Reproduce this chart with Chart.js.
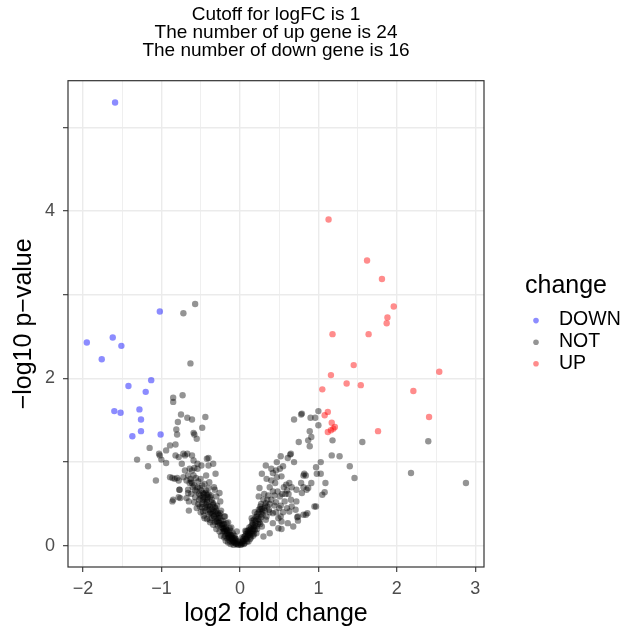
<!DOCTYPE html>
<html>
<head>
<meta charset="utf-8">
<script src="https://cdn.jsdelivr.net/npm/chart.js@4.4.1/dist/chart.umd.min.js"></script>
<style>
html, body { margin: 0; padding: 0; background: #fff; }
canvas { display: block; }
</style>
</head>
<body>
<canvas id="volcano" width="638" height="635"></canvas>
<script>
const titleLines = ['Cutoff for logFC is 1', 'The number of up gene is 24', 'The number of down gene is 16'];
const legendOrder = ['DOWN', 'NOT', 'UP'];
const xTicks = [-2, -1.5, -1, -0.5, 0, 0.5, 1, 1.5, 2, 2.5, 3];
const yTicks = [0, 1, 2, 3, 4, 5];

// [log2FC, -log10 p]
const downPts = [
    [-1.59, 5.30], [-1.02, 2.80], [-1.95, 2.43], [-1.62, 2.49], [-1.51, 2.39], [-1.76, 2.23],
    [-1.42, 1.91], [-1.13, 1.98], [-1.20, 1.84], [-1.60, 1.61], [-1.52, 1.59], [-1.28, 1.63],
    [-1.26, 1.51], [-1.26, 1.37], [-1.37, 1.31], [-1.01, 1.33]
];

const upPts = [
    [1.13, 3.90], [1.62, 3.41], [1.81, 3.19], [1.96, 2.86], [1.88, 2.73], [1.87, 2.66],
    [1.18, 2.53], [1.64, 2.53], [1.45, 2.16], [1.16, 2.04], [2.54, 2.08], [1.05, 1.87],
    [1.36, 1.94], [1.54, 1.92], [2.21, 1.85], [2.41, 1.54], [1.12, 1.60], [1.08, 1.56],
    [1.17, 1.47], [1.19, 1.40], [1.16, 1.38], [1.12, 1.36], [1.76, 1.37], [1.21, 1.42]
];

const notPts = [
    // left side, scattered
    [-0.57, 2.89], [-0.72, 2.78], [-0.63, 2.18], [-0.85, 1.77], [-0.85, 1.72], [-0.73, 1.80],
    [-0.75, 1.57], [-0.67, 1.53], [-0.61, 1.51], [-0.44, 1.54], [-0.79, 1.48], [-0.48, 1.41],
    [-0.81, 1.39], [-0.80, 1.33], [-0.59, 1.35], [-0.58, 1.33], [-0.55, 1.28], [-1.15, 1.17],
    [-0.82, 1.21], [-1.31, 1.03], [-1.17, 0.95], [-1.07, 0.78], [-1.03, 1.10], [-1.02, 1.08],
    [-0.94, 1.14], [-1.00, 1.03], [-0.94, 0.99], [-0.89, 1.20], [-0.86, 0.81], [-0.80, 0.81],
    [-0.77, 0.67], [-0.86, 0.53], [-0.78, 0.58], [-0.82, 1.08], [-0.78, 1.06], [-0.72, 1.10],
    [-0.67, 1.10], [-0.61, 1.08], [-0.59, 1.02], [-0.64, 0.92], [-0.58, 0.93], [-0.54, 0.98],
    [-0.40, 1.05], [-0.40, 0.96], [-0.31, 0.86], [-0.43, 0.84], [-0.66, 0.84], [-0.64, 0.75],
    [-0.66, 0.63], [-0.65, 0.53], [-0.65, 0.42], [-0.45, 0.74], [-0.39, 0.76], [-0.33, 0.70],
    [-0.26, 0.63], [-0.74, 0.98], [-0.70, 1.08], [-0.61, 0.90], [-0.59, 0.84], [-0.54, 0.92],
    [-0.49, 0.96], [-0.42, 1.04], [-0.34, 0.98],
    // left branch
    [-0.89, 0.82], [-0.83, 0.80], [-0.78, 0.78], [-0.77, 0.67], [-0.85, 0.55], [-0.76, 0.57],
    [-0.68, 0.57], [-0.66, 0.67], [-0.61, 0.75], [-0.53, 0.77], [-0.51, 0.69], [-0.47, 0.63],
    [-0.40, 0.69], [-0.32, 0.67], [-0.30, 0.59], [-0.34, 0.51], [-0.25, 0.53], [-0.42, 0.55],
    [-0.51, 0.47], [-0.47, 0.41], [-0.38, 0.39], [-0.32, 0.41], [-0.25, 0.39], [-0.19, 0.35],
    [-0.17, 0.27], [-0.13, 0.21], [-0.21, 0.21], [-0.30, 0.29], [-0.38, 0.31], [-0.45, 0.33],
    [-0.11, 0.13], [-0.06, 0.09], [0.00, 0.03], [-0.04, 0.17], [0.06, 0.11], [0.08, 0.17],
    [-0.70, 0.90], [-0.72, 0.82], [-0.68, 0.78], [-0.63, 0.80], [-0.58, 0.72], [-0.55, 0.65],
    [-0.62, 0.62], [-0.57, 0.58], [-0.52, 0.55], [-0.48, 0.50], [-0.44, 0.45], [-0.40, 0.48],
    [-0.36, 0.44], [-0.33, 0.36], [-0.28, 0.33], [-0.26, 0.27], [-0.23, 0.25], [-0.20, 0.18],
    [-0.16, 0.15], [-0.14, 0.10], [-0.10, 0.08], [-0.08, 0.05], [-0.05, 0.03], [-0.03, 0.02],
    [-0.02, 0.05], [-0.07, 0.12], [-0.12, 0.18], [-0.18, 0.22], [-0.22, 0.30], [-0.27, 0.37],
    [-0.31, 0.45], [-0.36, 0.52], [-0.41, 0.58], [-0.46, 0.62], [-0.50, 0.60], [-0.43, 0.66],
    [-0.37, 0.60], [-0.29, 0.48], [-0.24, 0.42], [-0.20, 0.35], [-0.15, 0.28], [-0.11, 0.22],
    [-0.09, 0.15], [-0.05, 0.08],
    [-0.52, 0.62], [-0.50, 0.57], [-0.47, 0.55], [-0.45, 0.52], [-0.43, 0.49], [-0.41, 0.46],
    [-0.39, 0.43], [-0.37, 0.40], [-0.35, 0.38], [-0.33, 0.35], [-0.31, 0.32], [-0.29, 0.30],
    [-0.27, 0.28], [-0.25, 0.25], [-0.23, 0.22], [-0.21, 0.20], [-0.19, 0.17], [-0.17, 0.14],
    [-0.15, 0.12], [-0.13, 0.10], [-0.11, 0.08], [-0.09, 0.06], [-0.07, 0.04], [-0.05, 0.02],
    [-0.54, 0.70], [-0.49, 0.66], [-0.46, 0.58], [-0.44, 0.56], [-0.42, 0.52], [-0.38, 0.47],
    [-0.34, 0.42], [-0.30, 0.38], [-0.26, 0.33], [-0.24, 0.30], [-0.20, 0.26], [-0.18, 0.20],
    [-0.16, 0.19], [-0.14, 0.16], [-0.12, 0.13], [-0.10, 0.11], [-0.08, 0.09], [-0.06, 0.07],
    [-0.04, 0.05], [-0.02, 0.01], [-0.60, 0.70], [-0.57, 0.66], [-0.62, 0.77], [-0.56, 0.81],
    [-0.50, 0.80], [-0.48, 0.72], [-0.36, 0.33], [-0.32, 0.28], [-0.28, 0.24], [-0.22, 0.17],
    [-0.19, 0.12], [-0.16, 0.09], [-0.13, 0.06], [-0.10, 0.04], [-0.40, 0.38], [-0.44, 0.42],
    [-0.48, 0.46], [-0.53, 0.50], [-0.58, 0.52], [-0.55, 0.45], [-0.50, 0.40], [-0.46, 0.36],
    [-0.42, 0.32], [-0.38, 0.28], [-0.34, 0.25], [-0.30, 0.20], [-0.26, 0.17], [-0.24, 0.12],
    [-0.20, 0.10], [-0.18, 0.06], [-0.15, 0.04], [-0.12, 0.02], [-0.08, 0.01],
    [-0.30, 0.42], [-0.32, 0.46], [-0.34, 0.49], [-0.36, 0.55], [-0.38, 0.58], [-0.40, 0.62],
    [-0.42, 0.61], [-0.44, 0.63], [-0.28, 0.39], [-0.26, 0.36], [-0.22, 0.26], [-0.20, 0.22],
    [-0.17, 0.18], [-0.14, 0.13], [-0.11, 0.10],
    // right side, scattered
    [1.00, 1.61], [0.78, 1.57], [0.79, 1.58], [0.69, 1.51], [0.90, 1.53], [0.96, 1.53],
    [1.00, 1.44], [0.89, 1.37], [0.91, 1.30], [0.75, 1.24], [0.89, 1.19], [1.18, 1.26],
    [1.56, 1.24], [2.40, 1.25], [1.17, 1.08], [1.27, 1.07], [1.40, 0.95], [1.46, 0.81],
    [2.18, 0.87], [2.88, 0.75], [0.64, 1.09], [0.65, 1.10], [0.52, 1.07], [0.61, 1.05],
    [0.69, 1.00], [0.55, 0.95], [0.51, 0.92], [0.46, 0.90], [0.42, 0.87], [0.97, 0.94],
    [1.03, 1.00], [0.98, 0.86], [1.03, 0.86], [1.09, 0.75], [1.08, 0.64], [1.05, 0.61],
    [0.97, 0.47], [0.81, 0.84], [0.84, 0.84], [0.87, 0.69], [0.79, 0.63], [0.72, 0.53],
    [0.81, 0.70], [0.86, 0.39], [0.81, 0.37], [0.73, 0.34], [0.61, 0.27], [0.53, 0.20],
    [0.63, 0.41], [0.52, 0.35], [0.87, 1.26], [0.47, 1.00], [0.33, 0.96], [0.40, 0.92],
    [0.28, 0.86], [0.34, 0.80], [0.40, 0.78], [0.47, 0.82], [0.53, 0.83], [0.59, 0.73],
    [0.66, 0.70], [0.72, 0.67], [0.78, 0.75], [0.82, 0.86], [0.25, 0.69], [0.31, 0.62],
    [0.24, 0.59], [0.35, 0.55], [0.42, 0.65], [0.51, 0.59], [0.57, 0.53], [0.65, 0.55],
    [0.71, 0.43], [0.84, 0.37], [0.74, 0.35], [0.95, 0.47], [0.91, 0.75], [0.85, 0.67],
    [0.68, 0.23], [0.49, 0.33], [0.42, 0.39], [0.33, 0.31], [0.28, 0.23], [0.30, 0.11],
    [0.38, 0.15], [0.49, 0.21], [0.74, 0.30], [0.42, 0.27], [0.53, 0.29],
    // right branch
    [0.01, 0.01], [0.03, 0.03], [0.05, 0.06], [0.07, 0.08], [0.09, 0.10], [0.11, 0.13],
    [0.13, 0.15], [0.15, 0.18], [0.17, 0.20], [0.19, 0.24], [0.05, 0.02], [0.09, 0.05],
    [0.14, 0.10], [0.18, 0.14], [0.22, 0.20], [0.26, 0.26], [0.20, 0.27], [0.23, 0.32],
    [0.27, 0.38], [0.16, 0.30], [0.12, 0.22], [0.10, 0.18], [0.08, 0.14], [0.06, 0.11],
    [0.04, 0.08], [0.02, 0.05], [0.28, 0.44], [0.32, 0.48], [0.36, 0.60], [0.34, 0.35],
    [0.38, 0.40], [0.44, 0.48], [0.46, 0.40], [0.52, 0.48], [0.58, 0.62], [0.62, 0.62],
    [0.55, 0.40], [0.60, 0.45], [0.66, 0.47],
    [0.02, 0.02], [0.04, 0.05], [0.06, 0.03], [0.08, 0.08], [0.10, 0.12], [0.12, 0.16],
    [0.14, 0.20], [0.16, 0.25], [0.18, 0.22], [0.20, 0.30], [0.22, 0.35], [0.24, 0.40],
    [0.26, 0.44], [0.21, 0.15], [0.17, 0.12], [0.25, 0.28], [0.29, 0.37], [0.32, 0.42],
    [0.35, 0.47], [0.38, 0.50], [0.37, 0.43], [0.40, 0.55], [0.44, 0.60], [0.46, 0.52],
    [0.48, 0.65], [0.50, 0.45], [0.54, 0.62], [0.56, 0.70], [0.60, 0.66], [0.63, 0.75],
    [0.45, 0.75], [0.38, 0.70], [0.30, 0.55], [0.27, 0.50], [0.13, 0.08], [0.11, 0.05],
    [0.03, 0.10], [0.07, 0.18], [0.15, 0.33], [0.19, 0.40],
    [0.10, 0.15], [0.12, 0.19], [0.14, 0.23], [0.16, 0.27], [0.18, 0.31], [0.20, 0.34],
    [0.22, 0.38], [0.24, 0.43], [0.26, 0.47], [0.13, 0.12], [0.15, 0.15], [0.17, 0.17],
    [0.19, 0.19], [0.21, 0.23], [0.23, 0.26], [0.25, 0.31], [0.27, 0.34], [0.29, 0.41],
    [0.31, 0.45], [0.33, 0.51]
];

const FONT = '"Liberation Sans", Arial, sans-serif';
const isMajor = (v) => Number.isInteger(v);
const fmtTick = (v) => (v < 0 ? '\u2212' + Math.abs(v) : String(v));
const toXY = (pts) => pts.map(p => ({ x: p[0], y: p[1] }));

// panel border drawn on top of the points, like ggplot's theme_bw
const panelBorder = {
    id: 'panelBorder',
    afterDatasetsDraw(chart) {
        const { ctx, chartArea: a } = chart;
        ctx.save();
        ctx.strokeStyle = '#333333';
        ctx.lineWidth = 1.2;
        ctx.strokeRect(a.left, a.top, a.right - a.left, a.bottom - a.top);
        ctx.restore();
    }
};

// legend on the right with a title
const sideLegend = {
    id: 'sideLegend',
    afterDraw(chart) {
        const ctx = chart.ctx;
        ctx.save();
        ctx.textAlign = 'left';
        ctx.textBaseline = 'middle';
        ctx.fillStyle = '#000';
        ctx.font = '25px ' + FONT;
        ctx.fillText('change', 525, 286);
        ctx.font = '19.5px ' + FONT;
        legendOrder.forEach((name, i) => {
            const ds = chart.data.datasets.find(d => d.label === name);
            const y = 320 + i * 21.6;
            ctx.beginPath();
            ctx.arc(536, y + 0.6, 2.8, 0, Math.PI * 2);
            ctx.fillStyle = ds.backgroundColor;
            ctx.fill();
            ctx.fillStyle = '#000';
            ctx.fillText(name, 559, y);
        });
        ctx.restore();
    }
};

// ticks only at the labelled (major) breaks; minor breaks only get a grid line
const gridOpts = {
    color: '#ebebeb',
    lineWidth: (c) => (c.tick && isMajor(c.tick.value) ? 1.4 : 0.8),
    tickColor: (c) => (c.tick && isMajor(c.tick.value) ? '#333333' : 'rgba(255,255,255,0)'),
    tickWidth: (c) => (c.tick && isMajor(c.tick.value) ? 1.1 : 0),
    tickLength: 5
};

const tickFont = { family: FONT, size: 18 };

new Chart(document.getElementById('volcano'), {
    type: 'scatter',
    data: {
        datasets: [
            { label: 'NOT', data: toXY(notPts), backgroundColor: 'rgba(0,0,0,0.42)' },
            { label: 'DOWN', data: toXY(downPts), backgroundColor: 'rgba(0,0,255,0.45)' },
            { label: 'UP', data: toXY(upPts), backgroundColor: 'rgba(255,0,0,0.45)' }
        ]
    },
    options: {
        responsive: false,
        animation: false,
        events: [],
        devicePixelRatio: 1,
        layout: { padding: { left: 0, right: 154, top: 0, bottom: 0 } },
        elements: { point: { radius: 3.2, borderWidth: 0, hoverRadius: 3.2 } },
        scales: {
            x: {
                type: 'linear',
                min: -2.19,
                max: 3.11,
                afterBuildTicks: (s) => { s.ticks = xTicks.map(v => ({ value: v })); },
                afterFit: (s) => { s.height = 68; },
                ticks: {
                    autoSkip: false,
                    maxRotation: 0,
                    padding: 6,
                    color: '#4d4d4d',
                    font: tickFont,
                    callback: (v) => (isMajor(v) ? fmtTick(v) : '')
                },
                grid: gridOpts,
                border: { display: false },
                title: {
                    display: true,
                    text: 'log2 fold change',
                    color: '#000',
                    font: { family: FONT, size: 25 },
                    padding: { top: 0, bottom: 6 }
                }
            },
            y: {
                type: 'linear',
                min: -0.254,
                max: 5.56,
                afterBuildTicks: (s) => { s.ticks = yTicks.map(v => ({ value: v })); },
                afterFit: (s) => { s.width = 68; },
                ticks: {
                    autoSkip: false,
                    padding: 8,
                    color: '#4d4d4d',
                    font: tickFont,
                    callback: (v) => (v % 2 === 0 ? fmtTick(v) : '')
                },
                grid: gridOpts,
                border: { display: false },
                title: {
                    display: true,
                    text: '\u2212log10 p\u2212value',
                    color: '#000',
                    font: { family: FONT, size: 25 },
                    padding: { top: 9, bottom: 0 }
                }
            }
        },
        plugins: {
            legend: { display: false },
            tooltip: { enabled: false },
            title: {
                display: true,
                text: titleLines,
                color: '#000',
                fullSize: false,
                font: { family: FONT, size: 19, weight: 'normal', lineHeight: 0.963 },
                padding: { top: 5.5, bottom: 20.3 }
            }
        }
    },
    plugins: [panelBorder, sideLegend]
});
</script>
</body>
</html>
